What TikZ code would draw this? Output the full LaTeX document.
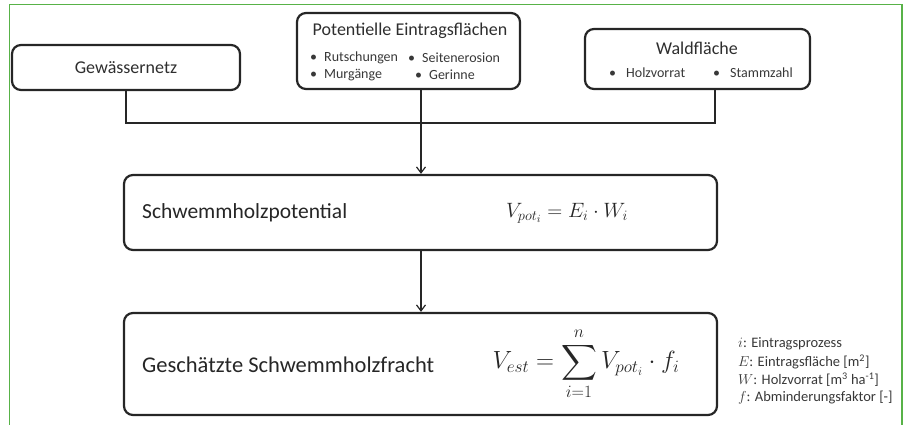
\documentclass[tikz,border=0pt]{standalone}
\usepackage{amsmath}
\usepackage{fontspec}
\setmainfont{Carlito}
\usetikzlibrary{arrows.meta}

\definecolor{rahmengruen}{RGB}{88,178,72}

\tikzset{
  kasten/.style={draw=black!85, line width=2.2pt, rounded corners=9pt, inner sep=0pt},
  titel/.style={font=\fontsize{18}{21}\selectfont, text=black!82},
  punkt/.style={font=\fontsize{14}{16}\selectfont, text=black!78, anchor=west, inner sep=0pt},
  haupt/.style={font=\fontsize{21.5}{25}\selectfont, text=black!85, anchor=west, inner sep=0pt},
  formel/.style={font=\fontsize{22}{26}\selectfont, text=black!85, inner sep=0pt},
  legende/.style={font=\fontsize{14.5}{17}\selectfont, text=black!78, anchor=west, inner sep=0pt},
  linie/.style={line width=1.2pt, draw=black!85},
}

\begin{document}
\begin{tikzpicture}[x=1pt, y=-1pt, >={Straight Barb[length=6pt,width=9pt]}]
    \useasboundingbox (0,0) rectangle (904,425);

    % gruener Rahmen (unten offen)
    \draw[rahmengruen, line width=1.4pt] (9.5,425) -- (9.5,4.5) -- (902,4.5) -- (902,425);

    % Eingangsdaten oben
    \node[kasten, minimum width=228pt, minimum height=45pt, titel] (gew) at (126,67.5) {Gewässernetz};
    \node[kasten, minimum width=223pt, minimum height=76pt] (pot) at (408.5,51) {};
    \node[kasten, minimum width=225pt, minimum height=60pt] (wald) at (697.5,59) {};

    \node[titel] (pottitel) at (410,31) {Potentielle Eintragsflächen};
    \foreach \px/\py/\wort [count=\i] in {310/58/Rutschungen, 408/58/Seitenerosion, 310/75/Murgänge, 415/75/Gerinne} {
        \node[punkt] (potpunkt-\i) at (\px,\py) {•\hspace{7pt}\wort};
    }

    \node[titel] (waldtitel) at (697,48) {Waldfläche};
    \foreach \px/\wort [count=\i] in {609/Holzvorrat, 713/Stammzahl} {
        \node[punkt] (waldpunkt-\i) at (\px,73) {•\hspace{10pt}\wort};
    }

    % Hauptkaesten
    \node[kasten, minimum width=593pt, minimum height=75pt] (schwemm) at (420.5,212.5) {};
    \node[haupt] (schwemmtext) at (142,213) {Schwemmholzpotential};
    \node[formel] (schwemmformel) at (567,213) {$V_{pot_i} = E_i \cdot W_i$};

    \node[kasten, minimum width=593pt, minimum height=102pt] (fracht) at (420.5,364) {};
    \node[haupt, font=\fontsize{22.5}{26}\selectfont] (frachttext) at (142,365) {Geschätzte Schwemmholzfracht};
    \node[formel, font=\fontsize{26}{30}\selectfont] (frachtformel) at (586,364) {$\displaystyle V_{est} = \sum_{i=1}^{n} V_{pot_i}\cdot f_i$};

    % Verbindungen
    \coordinate (links) at (126,123);
    \coordinate (mitte) at (421,123);
    \coordinate (rechts) at (715,123);
    \draw[linie] (gew.south) -- (links) -- (rechts) -- (rechts |- wald.south);
    \draw[linie, ->] (mitte |- pot.south) -- (mitte |- schwemm.north);
    \draw[linie, ->] (mitte |- schwemm.south) -- (mitte |- fracht.north);

    % Legende
    \node[legende] (leg-1) at (738,344) {$i$: Eintragsprozess};
    \node[legende] (leg-2) at (738,362) {$E$: Eintragsfläche [m\textsuperscript{2}]};
    \node[legende] (leg-3) at (738,380) {$W$: Holzvorrat [m\textsuperscript{3} ha\textsuperscript{-1}]};
    \node[legende] (leg-4) at (738,398) {$f$: Abminderungsfaktor [-]};
\end{tikzpicture}
\end{document}
